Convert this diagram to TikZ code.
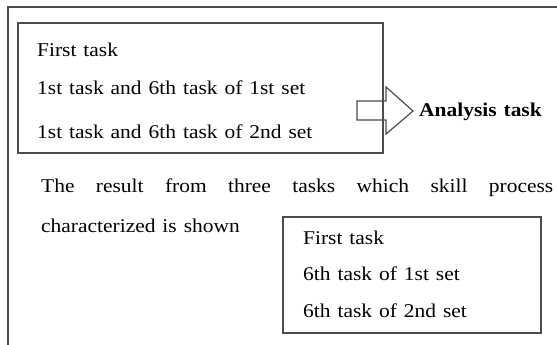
\documentclass[tikz,border=0pt]{standalone}
\usepackage{fontspec}
\setmainfont[FakeStretch=1.1,WordSpace=1.3]{Liberation Serif}
\begin{document}
\begin{tikzpicture}[x=1pt,y=-1pt,
  frame/.style={draw=black!70,line width=1.4pt},
  txt/.style={anchor=base west,inner sep=0pt,font=\fontsize{19.5}{22}\selectfont},
  btxt/.style={txt,font=\fontsize{19.5}{22}\selectfont\bfseries}]
\useasboundingbox (0,0) rectangle (557,345);
\clip (0,0) rectangle (557,345);
% outer frame
\draw[frame] (8,7) rectangle (600,400);
% box 1
\draw[frame] (18,23) rectangle (383,153);
\node[txt] (a1) at (37,56.5) {First task};
\node[txt] (a2) at (37,94) {1st task and 6th task of 1st set};
\node[txt] (a3) at (37,138) {1st task and 6th task of 2nd set};
% block arrow
\draw[frame,line width=1.2pt,line join=miter] (357,101) -- (386,101) -- (386,87) -- (413,111) -- (386,134) -- (386,120) -- (357,120) -- cycle;
\node[btxt] (an) at (419,116.5) {Analysis task};
% paragraph
\node[txt] (p1) at (41,192) {\makebox[512pt][s]{The result from three tasks which skill process}};
\node[txt] (p2) at (41,232.5) {characterized is shown};
% box 2
\draw[frame] (283,217) rectangle (541,333);
\node[txt] (b1) at (303,244) {First task};
\node[txt] (b2) at (303,280) {6th task of 1st set};
\node[txt] (b3) at (303,317) {6th task of 2nd set};
\end{tikzpicture}
\end{document}
